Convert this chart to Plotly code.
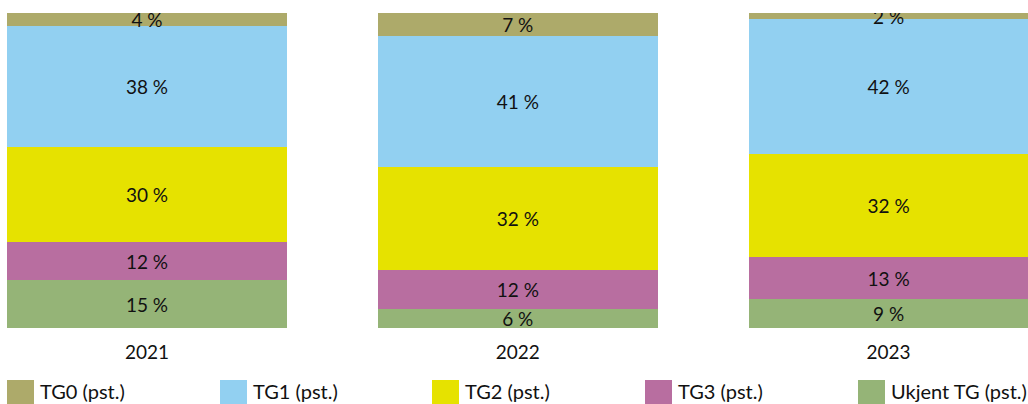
import plotly.graph_objects as go

years = ["2021", "2022", "2023"]
series_names = ["Ukjent TG (pst.)", "TG3 (pst.)", "TG2 (pst.)", "TG1 (pst.)", "TG0 (pst.)"]
ukjent = [15, 6, 9]
tg3 = [12, 12, 13]
tg2 = [30, 32, 32]
tg1 = [38, 41, 42]
tg0 = [4, 7, 2]
colors = ["#95B477", "#B86EA0", "#E6E200", "#92D0F1", "#ADAA6A"]
legend_order = ["TG0 (pst.)", "TG1 (pst.)", "TG2 (pst.)", "TG3 (pst.)", "Ukjent TG (pst.)"]

values = [ukjent, tg3, tg2, tg1, tg0]
FONT = "Lato"
FS = 19
LFS = 20
W, H = 1028, 404
MT, MB = 13, 76
plot_h = H - MT - MB

fig = go.Figure()
for name, vals, col in zip(series_names, values, colors):
    fig.add_trace(go.Bar(
        x=years, y=vals, name=name, marker=dict(color=col, line=dict(width=0)),
        width=0.755, text=[f"{v} %" for v in vals], textposition="inside",
        insidetextanchor="middle", textangle=0, constraintext="none",
        textfont=dict(family=FONT, size=FS, color="#111111"),
        showlegend=False,
    ))

# legend drawn manually (large square swatches like the original)
col_by_name = dict(zip(series_names, colors))
sq_x = [7, 220, 432, 645, 858]
shapes, annos = [], []
for px, name in zip(sq_x, legend_order):
    y0 = (MT + plot_h - 407) / plot_h
    y1 = (MT + plot_h - 380) / plot_h
    shapes.append(dict(type="rect", xref="paper", yref="paper",
                       x0=px / W, x1=(px + 27) / W, y0=y0, y1=y1,
                       fillcolor=col_by_name[name], line=dict(width=0)))
    annos.append(dict(xref="paper", yref="paper", x=(px + 31) / W,
                      y=(MT + plot_h - 391) / plot_h, xanchor="left", yanchor="middle",
                      text=name, showarrow=False,
                      font=dict(family=FONT, size=LFS, color="#111111")))

fig.update_layout(
    barmode="stack", barnorm="percent",
    width=W, height=H, margin=dict(l=0, r=0, t=MT, b=MB),
    paper_bgcolor="white", plot_bgcolor="white",
    uniformtext=dict(minsize=FS, mode="show"),
    font=dict(family=FONT, size=FS, color="#111111"),
    shapes=shapes, annotations=annos,
    xaxis=dict(range=[-0.3965, 2.376], showgrid=False, zeroline=False, showline=False,
               ticks="", ticklabelstandoff=11, tickfont=dict(family=FONT, size=FS, color="#111111"),
               fixedrange=True),
    yaxis=dict(range=[0, 100], visible=False, fixedrange=True),
)

fig.write_html("out.html", config={"displayModeBar": False},
               post_script="document.body.style.margin='0';document.body.style.overflow='hidden';")
